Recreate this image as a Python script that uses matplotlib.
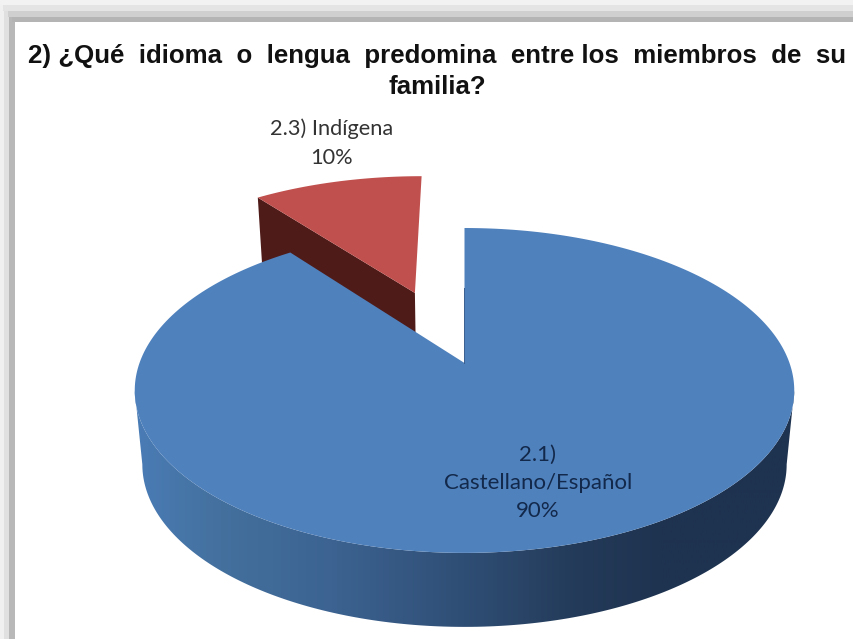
import numpy as np
from matplotlib import pyplot as plt
from matplotlib.colors import LinearSegmentedColormap
from matplotlib.patches import Polygon, Rectangle

# chart data, shares (labels are rounded)
labels = ['2.1)\nCastellano/Español\n90%', '2.3) Indígena\n10%']
values = [89.6, 10.4]
title = '2) ¿Qué  idioma  o  lengua  predomina  entre los  miembros  de  su\nfamilia?'

# pie geometry, in pixels of the 854x639 picture
CX, CY = 464.5, 363
R, A, K = 325, 157.8, 0.169  # x scale, y scale, perspective
DROP, SHRINK = 74, 0.977
EXPLODE = (-0.165, 0.48)

BLUE, RED, DARK_RED = '#4f81bd', '#c0504d', '#4f1b19'
wall_cmap = LinearSegmentedColormap.from_list('wall', [
    (0.0, '#4a7cb6'), (0.12, '#44719f'), (0.3, '#3c6391'), (0.5, '#2f4e75'),
    (0.68, '#233a58'), (0.8, '#1e3350'), (1.0, '#1e3350')])


def project(u, v):
    # flat pie -> screen, circle stays an ellipse with the back squeezed
    return CX + R * u / (1 + K * v), CY - A * v / (1 + K * v)


def rim(a0, a1, n=200, du=0, dv=0):
    # angles are clockwise from 12 o'clock
    t = np.radians(np.linspace(a0, a1, n))
    return project(np.sin(t) + du, np.cos(t) + dv)


def lower(x, y):
    return CX + (x - CX) * SHRINK, y + DROP


fig = plt.figure(figsize=(8.54, 6.39), dpi=100)
ax = fig.add_axes([0, 0, 1, 1])

# grey shadow of the pasted frame
for x0, x1, c in [(0, 4, '#f0f0f0'), (4, 9, '#e0e0e0'), (9, 15, '#b8b8b8')]:
    ax.add_patch(Rectangle((x0, x0 * 1.4), x1 - x0, 639, color=c, lw=0))
for y0, y1, c in [(0, 5, '#f2f2f2'), (5, 11, '#e4e4e4'), (11, 17, '#cfcfcf'), (17, 22, '#b4b4b4')]:
    ax.add_patch(Rectangle((y0 * 0.7, y0), 854, y1 - y0, color=c, lw=0))

start_red = 360 * values[0] / sum(values)

# exploded slice first, the big one sits over it
du, dv = EXPLODE
ex, ey = project(du, dv)
rx, ry = rim(start_red, 360, du=du, dv=dv)
lx, ly = lower(rx[0], ry[0])
bx, by = lower(ex, ey)
ax.add_patch(Polygon([(rx[0], ry[0]), (lx, ly), (bx, by), (ex, ey)], color=DARK_RED, lw=0))
ax.add_patch(Polygon(np.r_[[[ex, ey]], np.c_[rx, ry]], color=RED, lw=0))

# wall of the big slice, between the points where the outline is widest
side = np.degrees(np.arccos(-K))
tx, ty = rim(side, 360 - side, n=441)
bx, by = lower(tx, ty)
wall = Polygon(np.r_[np.c_[tx, ty], np.c_[bx, by][::-1]], fc='none', lw=0)
ax.add_patch(wall)
grad = ax.imshow(np.linspace(0, 1, 512)[None, :], cmap=wall_cmap, aspect='auto',
                 extent=(CX - R - 6, CX + R + 6, 639, 0), interpolation='bilinear')
grad.set_clip_path(wall)

# top of the big slice
ax_, ay_ = rim(0, start_red, n=500)
ax.add_patch(Polygon(np.r_[[[CX, CY]], np.c_[ax_, ay_]], color=BLUE, lw=0, zorder=3))
ax.plot([CX - 0.5, CX - 0.5], [CY, ay_[0] + 60], color='#3a5f8e', lw=0.7, zorder=3)

ax.text(437, 71.5, title, ha='center', va='center', family='Liberation Sans', fontweight='bold',
        fontsize=18.6, color='#111111', linespacing=1.32, zorder=4)
ax.text(538, 483, labels[0], ha='center', va='center', family='Lato', fontsize=16,
        color='#13294b', linespacing=1.5, zorder=4)
ax.text(332, 143, labels[1], ha='center', va='center', family='Lato', fontsize=15.7,
        color='#333333', linespacing=1.55, zorder=4)

ax.set_xlim(0, 854)
ax.set_ylim(639, 0)
ax.axis('off')

fig.savefig('out.png', dpi=100)
